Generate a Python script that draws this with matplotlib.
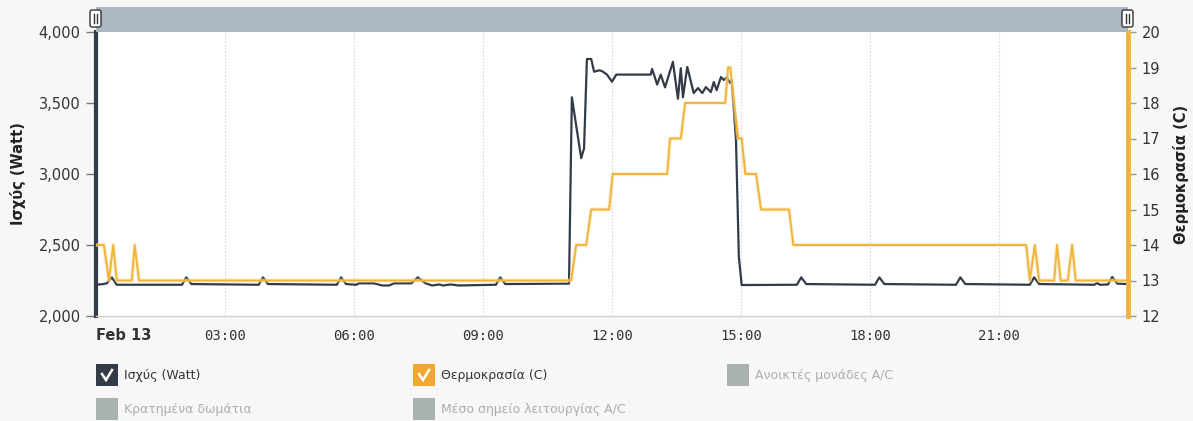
import matplotlib
matplotlib.use('Agg')
import matplotlib.pyplot as plt
from matplotlib.patches import Rectangle, FancyBboxPatch
from matplotlib.lines import Line2D

plt.rcParams['font.family'] = ['DejaVu Sans']

# ---------------- data (minutes after midnight, Feb 13) ----------------
power_minutes = [0, 10, 15, 22, 29, 120, 126, 133, 227, 233, 240, 336, 342, 349,
                 363, 367, 388, 399, 409, 416, 440, 449, 460, 469, 479, 484, 495,
                 506, 558, 564, 571, 660, 664, 677, 681, 685, 691, 695, 702, 706,
                 713, 720, 726, 774, 776, 783, 788, 794, 805, 812, 816, 819, 825,
                 834, 840, 846, 851, 858, 862, 866, 872, 876, 880, 885, 887, 893,
                 897, 901, 978, 984, 991, 1087, 1093, 1100, 1200, 1206, 1213, 1303,
                 1309, 1316, 1393, 1397, 1401, 1412, 1418, 1425, 1439]
power_watts = [2220, 2225, 2230, 2272, 2220, 2220, 2272, 2225, 2220, 2272, 2225, 2220, 2272, 2225,
               2220, 2230, 2230, 2215, 2215, 2230, 2230, 2272, 2230, 2215, 2222, 2215, 2222,
               2215, 2220, 2272, 2225, 2228, 3540, 3112, 3180, 3810, 3810, 3720, 3730, 3725,
               3700, 3650, 3700, 3700, 3740, 3630, 3700, 3610, 3790, 3530, 3745, 3540, 3754,
               3570, 3605, 3570, 3612, 3577, 3648, 3590, 3683, 3662, 3680, 3640, 3660, 3240,
               2415, 2218, 2220, 2272, 2225, 2220, 2272, 2225, 2220, 2272, 2225, 2220,
               2272, 2225, 2220, 2232, 2220, 2222, 2275, 2228, 2225]

temp_minutes = [0, 11, 18, 24, 29, 50, 54, 60, 663, 670, 684, 691, 716, 721, 797, 801,
                816, 822, 878, 882, 885, 896, 901, 906, 921, 928, 967, 973, 1298,
                1303, 1310, 1316, 1337, 1341, 1346, 1356, 1362, 1367, 1439]
temp_c = [14, 14, 13, 14, 13, 13, 14, 13, 13, 14, 14, 15, 15, 16, 16, 17,
          17, 18, 18, 19, 19, 17, 17, 16, 16, 15, 15, 14, 14,
          13, 14, 13, 13, 14, 13, 13, 14, 13, 13]

x_tick_hours = [0, 3, 6, 9, 12, 15, 18, 21]
x_tick_labels = ['Feb 13', '03:00', '06:00', '09:00', '12:00', '15:00', '18:00', '21:00']
power_ticks = [2000, 2500, 3000, 3500, 4000]
power_tick_labels = ['2,000', '2,500', '3,000', '3,500', '4,000']
temp_ticks = [12, 13, 14, 15, 16, 17, 18, 19, 20]

power_label = 'Ισχύς (Watt)'
temp_label = 'Θερμοκρασία (C)'
legend_labels = ['Ισχύς (Watt)', 'Θερμοκρασία (C)', 'Ανοικτές μονάδες A/C',
                 'Κρατημένα δωμάτια', 'Μέσο σημείο λειτουργίας A/C']
legend_active = [True, True, False, False, False]

# ---------------- styling ----------------
W, H = 1193, 421
POWER_COLOR = '#343b48'
TEMP_COLOR = '#f0b43a'
BG = '#f7f7f7'

fig = plt.figure(figsize=(W / 100, H / 100), dpi=100, facecolor=BG)
L, R, T, B = 96, 1128, 32, 316
ax = fig.add_axes([L / W, 1 - B / H, (R - L) / W, (B - T) / H])
ax.set_facecolor('white')

ph = [m / 60 for m in power_minutes]
th = [m / 60 for m in temp_minutes]

ax.plot(ph, power_watts, color=POWER_COLOR, lw=1.6, solid_joinstyle='round', zorder=3)
ax.set_xlim(0, 24)
ax.set_ylim(2000, 4000)
ax.set_yticks(power_ticks)
ax.set_yticklabels(power_tick_labels)
ax.set_xticks(x_tick_hours)
ax.set_xticklabels(x_tick_labels)
ax.grid(axis='x', color='#d9d9d9', linestyle=(0, (1.5, 1.5)), lw=0.8)
ax.set_axisbelow(True)

for s in ['top', 'right']:
    ax.spines[s].set_visible(False)
ax.spines['left'].set_color(POWER_COLOR)
ax.spines['left'].set_linewidth(3)
ax.spines['bottom'].set_color('#cfcfcf')
ax.spines['bottom'].set_linewidth(1)

ax.tick_params(axis='y', length=7, width=1, color='#777777', pad=4,
               labelsize=10.5, labelcolor='#333333')
ax.tick_params(axis='x', length=0, pad=9, labelsize=10, labelcolor='#333333')
for i, lab in enumerate(ax.get_xticklabels()):
    if i == 0:
        lab.set_fontweight('bold')
        lab.set_fontsize(10.5)
        lab.set_ha('left')
    else:
        lab.set_fontfamily('DejaVu Sans Mono')

ax.set_ylabel(power_label, fontsize=10.5, fontweight='bold', color='#222222')
ax.yaxis.label.set_va('center')
ax.yaxis.label.set_ha('center')
ax.yaxis.set_label_coords(-(L - 18) / (R - L), 0.5)

ax2 = ax.twinx()
ax2.plot(th, temp_c, color='#f8dfa6', lw=3.0, alpha=0.5, zorder=2)
ax2.plot(th, temp_c, color=TEMP_COLOR, lw=1.4, zorder=3)
ax2.set_ylim(12, 20)
ax2.set_yticks(temp_ticks)
for s in ['top', 'left', 'bottom']:
    ax2.spines[s].set_visible(False)
ax2.spines['right'].set_color(TEMP_COLOR)
ax2.spines['right'].set_linewidth(3.5)
ax2.tick_params(axis='y', length=6, width=1, color='#999999', pad=4,
                labelsize=10.5, labelcolor='#333333')
ax2.set_ylabel(temp_label, fontsize=10.5, fontweight='bold', color='#222222', rotation=90)
ax2.yaxis.label.set_va('center')
ax2.yaxis.label.set_ha('center')
ax2.yaxis.set_label_coords(1 + (1181 - R) / (R - L), 0.5)

# ---------------- overlay in pixel coordinates ----------------
ov = fig.add_axes([0, 0, 1, 1], zorder=10)
ov.set_xlim(0, W)
ov.set_ylim(H, 0)
ov.axis('off')

# top range bar
ov.add_patch(Rectangle((L, 7), R - L, T - 7, facecolor='#adb7c3', edgecolor='none'))
for hx in (L - 6, R - 6):
    ov.add_patch(FancyBboxPatch((hx, 10), 11, 17, boxstyle='round,pad=0,rounding_size=2',
                                facecolor='white', edgecolor='#333333', lw=1))
    for dx in (4, 7):
        ov.add_line(Line2D([hx + dx, hx + dx], [14, 23], color='#333333', lw=1))

# legend
col_x = [96, 413, 727]
row_y = [364, 398]
box_colors_active = [POWER_COLOR, '#f0a830']
for i, (lab, act) in enumerate(zip(legend_labels, legend_active)):
    if i < 3:
        bx, by = col_x[i], row_y[0]
    else:
        bx, by = col_x[i - 3], row_y[1]
    if act:
        fc = box_colors_active[i]
        tc = '#333333'
    else:
        fc = '#a9b1b1'
        tc = '#a9afaf'
    ov.add_patch(Rectangle((bx, by), 22, 22, facecolor=fc, edgecolor='none'))
    if act:
        ov.add_line(Line2D([bx + 6, bx + 10, bx + 16], [by + 10, by + 16, by + 6],
                           color='white', lw=1.8, solid_joinstyle='miter'))
    ov.text(bx + 28, by + 11, lab, fontsize=9, color=tc, va='center', ha='left')

fig.savefig('out.png', dpi=100, facecolor=BG)
